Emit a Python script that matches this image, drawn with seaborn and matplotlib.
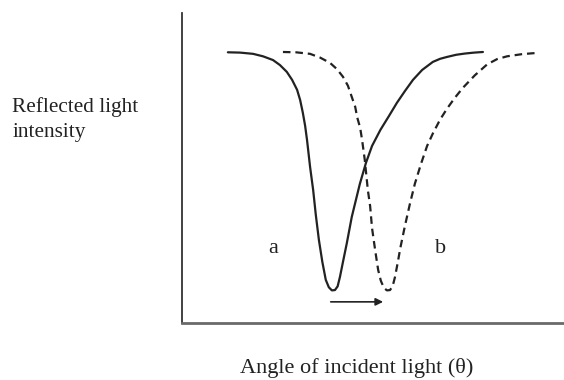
import matplotlib
matplotlib.use("Agg")
import matplotlib.pyplot as plt
import seaborn as sns
import pandas as pd

# Reflectance dip before (a) and after (b) the resonance shift
angle_a = [12.1, 15.3, 18.7, 21.3, 23.9, 25.7, 27.5, 28.9, 30.2, 31.0, 31.7, 32.3,
           32.8, 33.6, 34.4, 35.1, 35.9, 36.8, 37.7, 38.5, 39.3, 40.1, 40.8, 41.4,
           42.3, 43.2, 44.5, 46.6, 48.2, 49.8, 52.0, 54.2, 56.3, 58.4, 60.5, 62.9,
           65.7, 67.6, 69.4, 71.8, 74.1, 76.5, 78.8]
intensity_a = [87.2, 87.1, 86.7, 85.9, 84.7, 83.1, 80.9, 78.3, 75.1, 71.8, 67.7, 63.5,
               58.9, 50.2, 42.8, 34.7, 26.7, 19.6, 13.8, 11.4, 10.4, 10.5, 11.7, 14.7,
               20.2, 25.6, 34.1, 44.7, 51.5, 57.0, 62.2, 66.6, 70.9, 74.7, 78.3, 81.5,
               84.1, 85.1, 85.7, 86.4, 86.8, 87.1, 87.3]

angle_b = [26.5, 29.9, 33.6, 36.2, 38.8, 40.6, 42.2, 43.5, 44.5, 45.4, 45.9, 46.7,
           47.2, 47.9, 48.7, 49.3, 49.8, 50.6, 51.4, 52.1, 52.9, 53.7, 54.5, 55.2,
           55.8, 56.6, 57.2, 58.4, 59.7, 61.0, 62.6, 64.2, 65.7, 67.6, 69.4, 71.5,
           73.6, 76.7, 79.9, 82.5, 85.1, 89.0, 92.9]
intensity_b = [87.3, 87.2, 86.7, 85.5, 83.8, 81.8, 79.3, 76.4, 72.8, 69.6, 66.3, 62.8,
               58.9, 52.5, 42.8, 37.6, 30.5, 23.5, 17.0, 13.5, 11.2, 10.4, 10.5, 11.8,
               14.7, 19.9, 24.1, 31.2, 38.3, 44.8, 51.2, 57.0, 61.0, 65.5, 69.0, 72.6,
               75.8, 79.8, 83.3, 85.0, 85.9, 86.6, 87.0]

curve_labels = ["a", "b"]
label_pos_x = [23.9, 67.6]
label_pos_y = [22.4, 22.4]
shift_from = 39.0
shift_to = 52.7
shift_level = 6.7

df = pd.concat([
    pd.DataFrame({"angle": angle_a, "intensity": intensity_a, "curve": "a"}),
    pd.DataFrame({"angle": angle_b, "intensity": intensity_b, "curve": "b"}),
], ignore_index=True)

sns.set_style("white")
plt.rcParams["font.family"] = ["Liberation Serif", "DejaVu Serif"]

ink = "#222222"
fig = plt.figure(figsize=(5.64, 3.80), dpi=100)
ax = fig.add_axes([0.322, 0.151, 0.678, 0.8158])

sns.lineplot(data=df, x="angle", y="intensity", hue="curve", style="curve",
             palette={"a": ink, "b": ink},
             dashes={"a": "", "b": (3.4, 2.2)},
             sort=False, estimator=None, legend=False, ax=ax, linewidth=1.6)
for ln in ax.get_lines():
    ln.set_solid_joinstyle("round")
    ln.set_solid_capstyle("round")

ax.set_xlim(0, 100)
ax.set_ylim(0, 100)
ax.set_xticks([])
ax.set_yticks([])
ax.set_xlabel("")
ax.set_ylabel("")
for side in ("top", "right"):
    ax.spines[side].set_visible(False)
ax.spines["left"].set_color("#333333")
ax.spines["left"].set_linewidth(1.3)
ax.spines["bottom"].set_color("#6a6a6a")
ax.spines["bottom"].set_linewidth(2.0)

for lab, lx, ly in zip(curve_labels, label_pos_x, label_pos_y):
    ax.text(lx, ly, lab, ha="center", va="baseline", fontsize=16, color=ink)

ax.annotate("", xy=(shift_to, shift_level), xytext=(shift_from, shift_level),
            arrowprops=dict(arrowstyle="-|>", lw=1.2, color=ink,
                            mutation_scale=11, shrinkA=0, shrinkB=0))

fig.text(12.3 / 564, 1 - 111.7 / 380, "Reflected light", ha="left", va="baseline",
         fontsize=15.3, color=ink)
fig.text(12.3 / 564, 1 - 136.7 / 380, "intensity", ha="left", va="baseline",
         fontsize=15.3, color=ink)
fig.text(356.5 / 564, 1 - 373 / 380, "Angle of incident light (θ)", ha="center",
         va="baseline", fontsize=16, color=ink)

fig.savefig("out.png", dpi=100)
